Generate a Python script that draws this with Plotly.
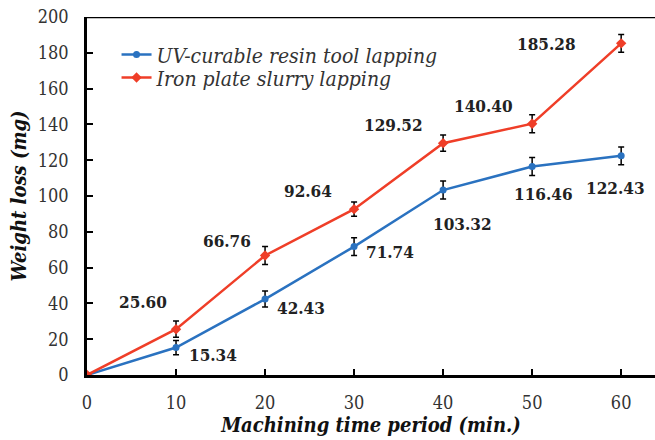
import plotly.graph_objects as go

time_min = [0, 10, 20, 30, 40, 50, 60]
uv_resin = [0, 15.34, 42.43, 71.74, 103.32, 116.46, 122.43]
uv_err = [0, 4, 4.5, 5, 5, 5, 5]
iron_plate = [0, 25.60, 66.76, 92.64, 129.52, 140.40, 185.28]
iron_err = [0, 4.5, 5, 4, 4.5, 5, 5]

uv_labels = ["15.34", "42.43", "71.74", "103.32", "116.46", "122.43"]
uv_label_pos = [(14.2, 11.2), (24.0, 37.4), (34.0, 68.5), (42.2, 84.4), (51.3, 101.1), (59.4, 104.5)]
iron_labels = ["25.60", "66.76", "92.64", "129.52", "140.40", "185.28"]
iron_label_pos = [(6.3, 40.8), (15.7, 74.9), (24.8, 102.8), (34.4, 139.7), (44.5, 150.3), (51.6, 184.9)]

BLUE = "#2A72C0"
RED = "#EF3E28"
FONT = "DejaVu Serif Condensed, DejaVu Serif"

fig = go.Figure()
fig.add_trace(go.Scatter(
    x=time_min, y=uv_resin, mode="lines+markers",
    name="UV-curable resin tool lapping", legend="legend",
    line=dict(color=BLUE, width=2.5),
    marker=dict(symbol="circle", size=7, color=BLUE),
    error_y=dict(type="data", array=uv_err, color="black", thickness=1.5, width=3),
))
fig.add_trace(go.Scatter(
    x=time_min, y=iron_plate, mode="lines+markers",
    name="Iron plate slurry lapping", legend="legend2",
    line=dict(color=RED, width=2.5),
    marker=dict(symbol="diamond", size=8, color=RED),
    error_y=dict(type="data", array=iron_err, color="black", thickness=1.5, width=3),
))

annotations = []
for txt, (x, y) in zip(uv_labels + iron_labels, uv_label_pos + iron_label_pos):
    annotations.append(dict(x=x, y=y, xref="x", yref="y", text="<b>%s</b>" % txt,
                            showarrow=False, font=dict(family=FONT, size=17, color="#222")))

legend_common = dict(xanchor="left", yanchor="middle",
                     font=dict(family=FONT, size=21, color="#333", style="italic"),
                     bgcolor="rgba(0,0,0,0)", itemwidth=30)

fig.update_layout(
    width=655, height=440,
    margin=dict(l=87, r=0, t=17, b=65),
    plot_bgcolor="white", paper_bgcolor="white",
    font=dict(family=FONT, size=17, color="#333"),
    showlegend=True,
    legend=dict(x=0.052, y=0.894, **legend_common),
    legend2=dict(x=0.052, y=0.830, **legend_common),
    annotations=annotations,
    shapes=[dict(type="line", xref="paper", yref="y", x0=0, x1=1, y0=200, y1=200,
                 line=dict(color="black", width=2.5))],
)
fig.update_xaxes(
    range=[0, 63.8], tickvals=[0, 10, 20, 30, 40, 50, 60],
    showline=True, linecolor="black", linewidth=2.5,
    ticks="inside", ticklen=6, tickwidth=2, tickcolor="black",
    showgrid=False, zeroline=False, ticklabelstandoff=10,
    tickfont=dict(family=FONT, size=18, color="#333"),
    title=dict(text="<b><i>Machining time period (min.)</i></b>",
               font=dict(family=FONT, size=20, color="#111"), standoff=6),
)
fig.update_yaxes(
    range=[0, 200], tickvals=list(range(0, 201, 20)),
    showline=True, linecolor="black", linewidth=2.5,
    ticks="inside", ticklen=6, tickwidth=2, tickcolor="black",
    showgrid=False, zeroline=False, ticklabelstandoff=12,
    tickfont=dict(family=FONT, size=18, color="#333"),
    title=dict(text="<b><i>Weight loss (mg)</i></b>",
               font=dict(family=FONT, size=20, color="#111"), standoff=6),
)

fig.write_html("out.html")
